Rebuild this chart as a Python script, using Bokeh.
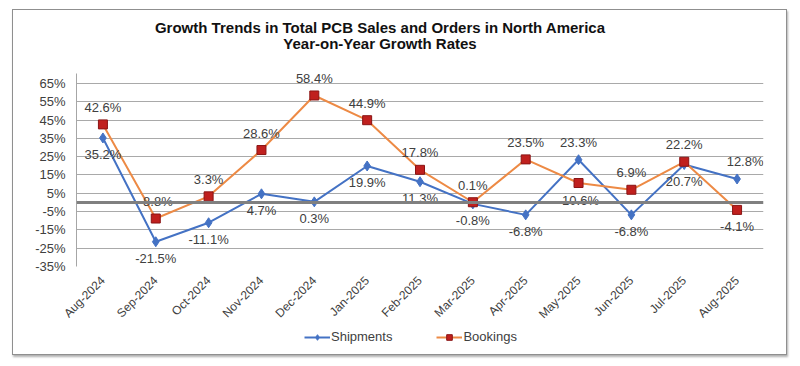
from bokeh.plotting import figure
from bokeh.layouts import column
from bokeh.models import (Range1d, FixedTicker, PrintfTickFormatter, Span, Legend,
                          LegendItem, ColumnDataSource, Div)
from bokeh.embed import file_html
from bokeh.resources import INLINE
from bokeh.core.properties import value
import math

# ---------------- data ----------------
months = ["Aug-2024", "Sep-2024", "Oct-2024", "Nov-2024", "Dec-2024", "Jan-2025",
          "Feb-2025", "Mar-2025", "Apr-2025", "May-2025", "Jun-2025", "Jul-2025", "Aug-2025"]
shipments = [35.2, -21.5, -11.1, 4.7, 0.3, 19.9, 11.3, -0.8, -6.8, 23.3, -6.8, 20.7, 12.8]
bookings = [42.6, -8.8, 3.3, 28.6, 58.4, 44.9, 17.8, 0.1, 23.5, 10.6, 6.9, 22.2, -4.1]
y_ticks = [-35, -25, -15, -5, 5, 15, 25, 35, 45, 55, 65]
title_lines = ["Growth Trends in Total PCB Sales and Orders in North America",
               "Year-on-Year Growth Rates"]
series_names = ["Shipments", "Bookings"]

# label placement (style)
ship_side = ["below", "below", "below", "below", "below", "below", "below",
             "below", "below", "above", "below", "below", "above"]
book_side = ["above", "above", "above", "above", "above", "above", "above",
             "above", "above", "below", "above", "above", "below"]
ship_dx = [0, 0, 0, 0, 0, 0, 0, 0, 0, 0, 0, 0, 8]
book_dx = [0, 0, 0, 0, 0, 0, 0, 0, 0, 2, 0, 0, 0]

LABEL_OFF = 17
FONT = "Liberation Sans"
TXT = "#404040"
BLUE = "#4472c4"
ORANGE = "#ed8a45"
RED = "#c0201e"
DARKRED = "#8a1414"

def offs(sides):
    return [-LABEL_OFF if s == "above" else LABEL_OFF for s in sides]

ship_src = ColumnDataSource(dict(x=months, y=shipments,
                                 t=[f"{v:.1f}%" for v in shipments],
                                 dx=ship_dx, dy=offs(ship_side)))
book_src = ColumnDataSource(dict(x=months, y=bookings,
                                 t=[f"{v:.1f}%" for v in bookings],
                                 dx=book_dx, dy=offs(book_side)))

# ---------------- title ----------------
title_div = Div(
    text=("<div style='width:734px;font-family:\"Liberation Sans\",Arial,sans-serif;"
          "font-weight:bold;font-size:15px;line-height:16px;color:#111;"
          "text-align:center;padding-top:10px;'>"
          + title_lines[0] + "<br>" + title_lines[1] + "</div>"),
    width=734, height=50, margin=(0, 0, 0, 0))

# ---------------- main chart ----------------
p = figure(x_range=months, y_range=Range1d(-35, 70.4),
           width=773, height=269, output_backend="svg", toolbar_location=None,
           min_border_left=63, min_border_right=23, min_border_top=13, min_border_bottom=61,
           background_fill_color="white", border_fill_color="white")
p.margin = (0, 0, 0, 0)
p.outline_line_color = None

p.yaxis.ticker = FixedTicker(ticks=y_ticks)
p.yaxis.formatter = PrintfTickFormatter(format="%d%%")
p.yaxis.major_label_text_font = FONT
p.yaxis.major_label_text_font_size = "13px"
p.yaxis.major_label_text_color = TXT
p.yaxis.axis_line_color = "#a6a6a6"
p.yaxis.major_tick_out = 0
p.yaxis.major_tick_in = 0
p.yaxis.minor_tick_line_color = None
p.yaxis.major_label_standoff = 11

p.xaxis.axis_line_color = None
p.xaxis.major_tick_line_color = None
p.xaxis.major_label_orientation = math.pi / 4
p.xaxis.major_label_text_font = FONT
p.xaxis.major_label_text_font_size = "12px"
p.xaxis.major_label_text_color = TXT
p.xaxis.major_label_standoff = 6

p.xgrid.grid_line_color = None
p.ygrid.grid_line_color = "#a9a9a9"
p.ygrid.grid_line_width = 1

p.add_layout(Span(location=0, dimension="width", line_color="#808080", line_width=3))

p.line("x", "y", source=ship_src, line_color=BLUE, line_width=2)
p.scatter("x", "y", source=ship_src, marker="diamond", size=10,
          fill_color=BLUE, line_color=BLUE)
p.line("x", "y", source=book_src, line_color=ORANGE, line_width=2)
p.scatter("x", "y", source=book_src, marker="square", size=9,
          fill_color=RED, line_color=DARKRED)

for src in (ship_src, book_src):
    p.text("x", "y", text="t", source=src, x_offset="dx", y_offset="dy",
           text_align="center", text_baseline="middle",
           text_font=value(FONT), text_font_size="13px", text_color=TXT)

# ---------------- legend strip ----------------
lp = figure(x_range=months, y_range=Range1d(1000, 1001), width=773, height=25,
            output_backend="svg", toolbar_location=None,
            x_axis_location=None, y_axis_location=None,
            min_border=0, min_border_left=0, min_border_right=0,
            min_border_top=0, min_border_bottom=0,
            background_fill_color="white", border_fill_color="white")
lp.margin = (0, 0, 0, 0)
lp.outline_line_color = None
lp.grid.visible = False
l1 = lp.line("x", "y", source=ship_src, line_color=BLUE, line_width=2)
m1 = lp.scatter("x", "y", source=ship_src, marker="diamond", size=10,
                fill_color=BLUE, line_color=BLUE)
l2 = lp.line("x", "y", source=book_src, line_color=ORANGE, line_width=2)
m2 = lp.scatter("x", "y", source=book_src, marker="square", size=9,
                fill_color=RED, line_color=DARKRED)
legend = Legend(items=[LegendItem(label=series_names[0], renderers=[l1, m1]),
                       LegendItem(label=series_names[1], renderers=[l2, m2])],
                orientation="horizontal", location=(228, 10),
                glyph_width=26, glyph_height=14, label_standoff=1, spacing=44,
                label_text_font=FONT, label_text_font_size="13px",
                label_text_color=TXT, border_line_color=None,
                background_fill_alpha=0, padding=0, margin=0)
lp.add_layout(legend, "center")

layout = column(title_div, p, lp, spacing=0)
layout.margin = (9, 0, 0, 12)
layout.styles = {"border": "1px solid #8f8f8f", "box-shadow": "1px 2px 2px #b0b0b0",
                 "background-color": "white"}

open("out.html", "w").write(file_html(layout, INLINE))
